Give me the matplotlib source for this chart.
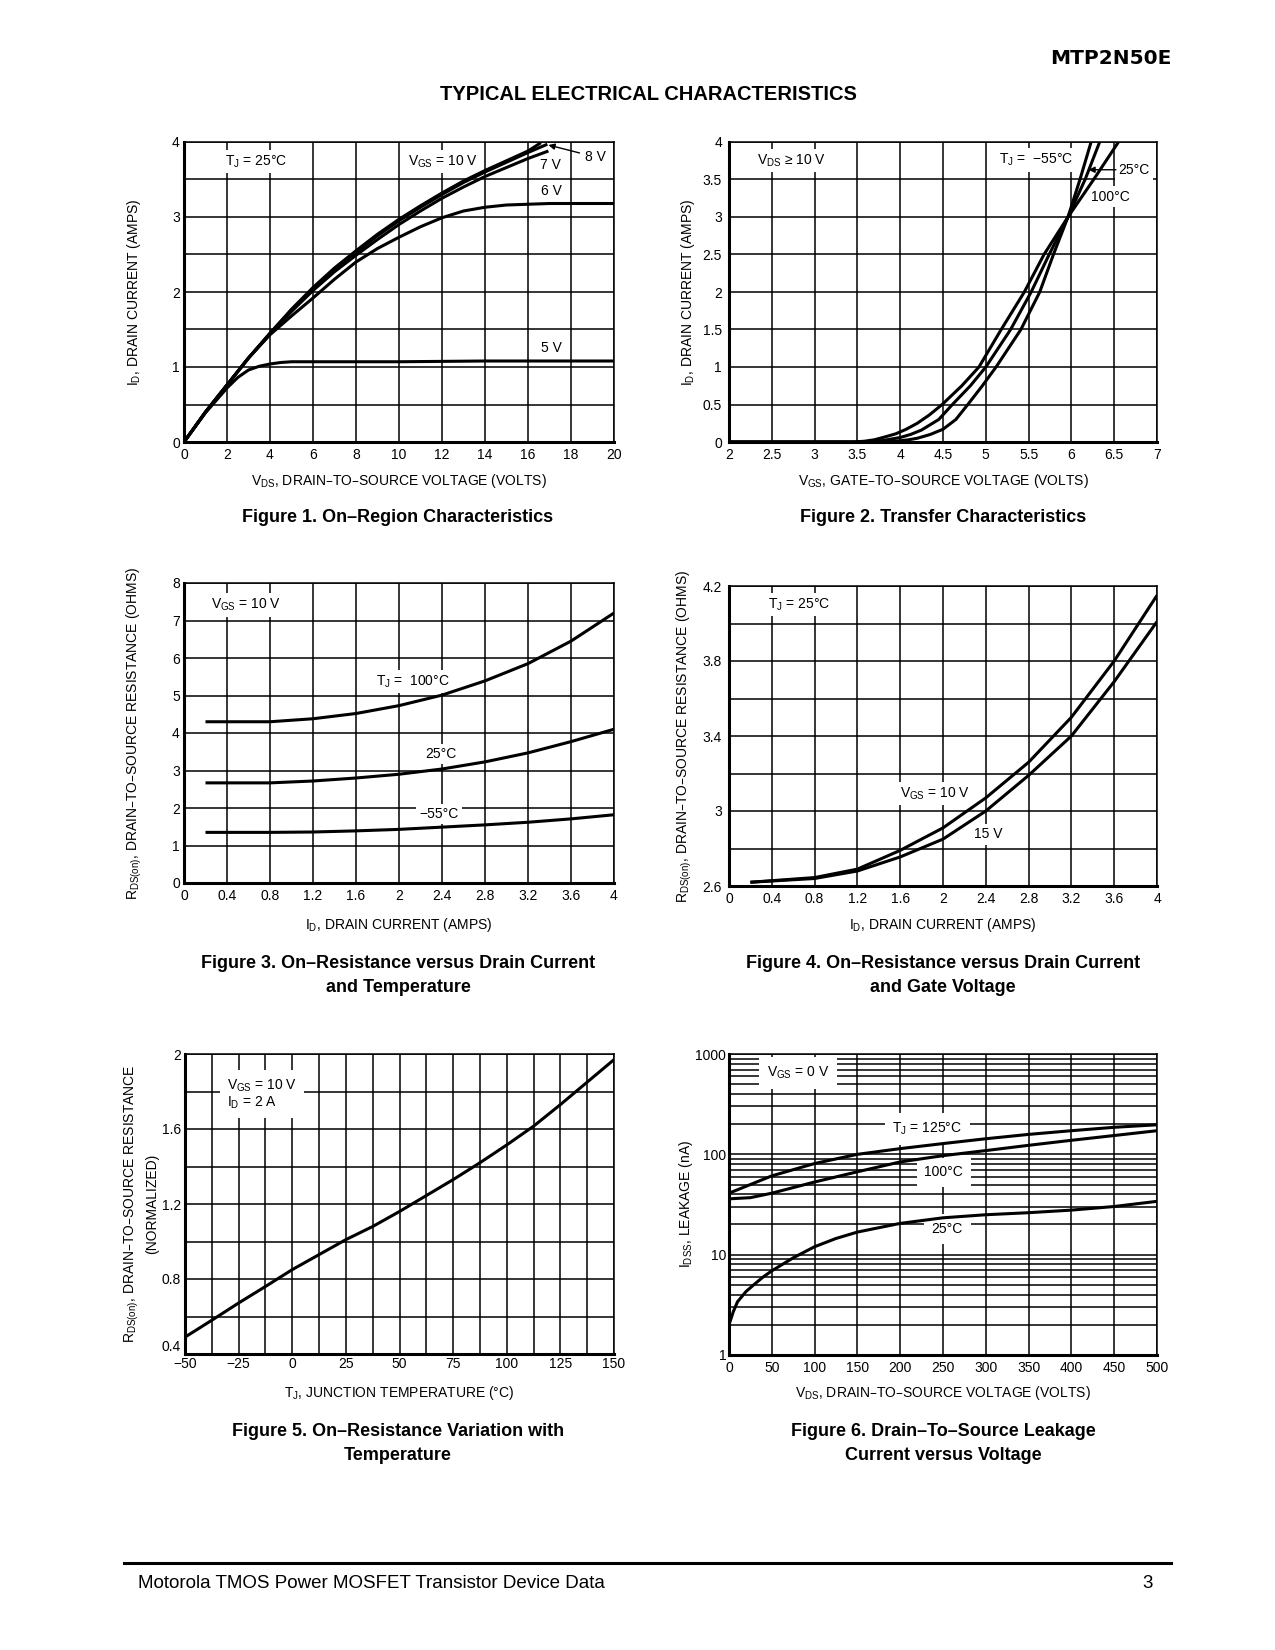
import numpy as np
import matplotlib
matplotlib.use('Agg')
import matplotlib.pyplot as plt
from matplotlib.ticker import NullFormatter

plt.rcParams['font.family'] = ['Liberation Sans', 'DejaVu Sans']
plt.rcParams['mathtext.default'] = 'regular'

# ---------------------------------------------------------------- data
# Figure 1: ID vs VDS for several VGS
vecVds10 = [0, 1, 2, 3, 4, 5, 6, 7, 8, 9, 10, 11, 12, 13, 14, 15, 16, 16.6]
vecId10 = [0, 0.40, 0.76, 1.12, 1.45, 1.77, 2.06, 2.32, 2.55, 2.77, 2.97,
           3.15, 3.32, 3.48, 3.62, 3.75, 3.88, 3.99]
vecVds8 = [0, 1, 2, 3, 4, 5, 6, 7, 8, 9, 10, 11, 12, 13, 14, 15, 16, 16.9]
vecId8 = [0, 0.40, 0.76, 1.12, 1.45, 1.76, 2.04, 2.30, 2.53, 2.75, 2.95,
          3.13, 3.30, 3.46, 3.60, 3.73, 3.86, 3.97]
vecVds7 = [0, 1, 2, 3, 4, 5, 6, 7, 8, 9, 10, 11, 12, 13, 14, 15, 16, 16.95]
vecId7 = [0, 0.40, 0.76, 1.12, 1.44, 1.74, 2.02, 2.27, 2.49, 2.70, 2.90,
          3.08, 3.25, 3.40, 3.54, 3.66, 3.78, 3.88]
vecVds6 = [0, 1, 2, 3, 4, 5, 6, 7, 8, 9, 10, 11, 12, 13, 14, 15, 16, 17,
           18, 19, 20]
vecId6 = [0, 0.40, 0.76, 1.12, 1.43, 1.68, 1.92, 2.17, 2.40, 2.58, 2.73,
          2.87, 2.99, 3.08, 3.13, 3.16, 3.17, 3.18, 3.18, 3.18, 3.18]
vecVds5 = [0, 1, 2, 2.5, 3, 3.5, 4, 4.5, 5, 6, 8, 10, 12, 14, 16, 18, 20]
vecId5 = [0, 0.39, 0.72, 0.86, 0.96, 1.01, 1.04, 1.06, 1.07, 1.07, 1.07,
          1.07, 1.075, 1.08, 1.08, 1.08, 1.08]

# Figure 2: transfer characteristics (VGS read at each ID level)
vecIdTrn = [0, 0, 0.01, 0.03, 0.07, 0.11, 0.17, 0.25, 0.36, 0.5, 0.75, 1.0,
            1.5, 2.0, 2.5, 3.0, 3.5, 4.0]
vecVgs100 = [2.0, 3.45, 3.58, 3.7, 3.83, 3.95, 4.07, 4.2, 4.34, 4.49, 4.72,
             4.92, 5.18, 5.45, 5.68, 5.96, 6.26, 6.55]
vecIdTrn25 = [0, 0, 0.01, 0.02, 0.04, 0.06, 0.1, 0.16, 0.3, 0.5, 0.75, 1.0,
              1.5, 2.0, 2.5, 3.0, 3.5, 4.0]
vecVgs25 = [2.0, 3.55, 3.7, 3.8, 3.9, 4.0, 4.12, 4.25, 4.45, 4.61, 4.82,
            5.0, 5.29, 5.53, 5.74, 5.96, 6.16, 6.33]
vecIdTrnM55 = [0, 0, 0.01, 0.03, 0.05, 0.1, 0.17, 0.3, 0.5, 0.75, 1.0, 1.5,
               2.0, 2.5, 3.0, 3.5, 4.0]
vecVgsM55 = [2.0, 3.7, 3.95, 4.1, 4.2, 4.35, 4.5, 4.65, 4.79, 4.96, 5.12,
             5.41, 5.63, 5.79, 5.96, 6.1, 6.23]

# Figure 3: RDS(on) vs ID and temperature
vecIdR = [0.2, 0.8, 1.2, 1.6, 2.0, 2.4, 2.8, 3.2, 3.6, 4.0]
vecR100 = [4.3, 4.3, 4.38, 4.52, 4.73, 5.01, 5.39, 5.85, 6.45, 7.2]
vecR25 = [2.67, 2.67, 2.72, 2.8, 2.9, 3.04, 3.23, 3.47, 3.77, 4.1]
vecRM55 = [1.35, 1.35, 1.36, 1.39, 1.43, 1.49, 1.55, 1.62, 1.71, 1.82]

# Figure 4: RDS(on) vs ID and gate voltage
vecIdG = [0.2, 0.8, 1.2, 1.6, 2.0, 2.4, 2.8, 3.2, 3.6, 4.0]
vecRg10 = [2.62, 2.645, 2.69, 2.79, 2.91, 3.07, 3.26, 3.50, 3.80, 4.15]
vecRg15 = [2.62, 2.64, 2.68, 2.755, 2.85, 3.0, 3.19, 3.40, 3.69, 4.01]

# Figure 5: normalized RDS(on) vs TJ
vecTj = [-50, -37.5, -25, -12.5, 0, 12.5, 25, 37.5, 50, 62.5, 75, 87.5,
         100, 112.5, 125, 137.5, 150]
vecRnorm = [0.49, 0.58, 0.672, 0.76, 0.85, 0.93, 1.01, 1.08, 1.16, 1.245,
            1.33, 1.42, 1.515, 1.615, 1.73, 1.85, 1.97]

# Figure 6: IDSS leakage vs VDS
vecVl25 = [0, 5, 10, 20, 30, 40, 50, 75, 100, 125, 150, 200, 250, 300, 350,
           400, 450, 500]
vecIl25 = [2.0, 2.7, 3.4, 4.3, 5.1, 6.0, 6.9, 9.3, 12.0, 14.5, 16.8, 20.5,
           23.3, 25.0, 26.2, 27.8, 30.2, 34.0]
vecVl100 = [0, 25, 50, 100, 150, 200, 250, 300, 350, 400, 450, 500]
vecIl100 = [36, 37, 41, 53, 67, 84, 97, 109, 123, 138, 154, 172]
vecVl125 = [0, 50, 100, 150, 200, 250, 300, 350, 400, 450, 500]
vecIl125 = [41, 61, 81, 100, 114, 128, 143, 158, 172, 186, 197]

# ---------------------------------------------------------------- layout
varW, varH = 1275, 1650
fgr01 = plt.figure(figsize=(varW / 100.0, varH / 100.0), dpi=100)
fgr01.patch.set_facecolor('white')


def fx(x):
    return x / float(varW)


def fy(y):
    return 1.0 - y / float(varH)


def make_ax(left, top, right, bottom):
    return fgr01.add_axes([fx(left), fy(bottom), (right - left) / float(varW),
                           (bottom - top) / float(varH)])


dctBox = dict(boxstyle='square,pad=0.25', facecolor='white', edgecolor='none')
varLw = 2.2
varFs = 10
varLblFs = 10


def style_ax(axs, vecXgrd, vecXlbl, lstXlbl, vecYgrd, vecYlbl, lstYlbl,
             xpad=4, ypad=3):
    axs.set_axisbelow(True)
    axs.set_xticks(vecXgrd, minor=True)
    axs.set_yticks(vecYgrd, minor=True)
    axs.set_xticks(vecXlbl)
    axs.set_xticklabels(lstXlbl)
    axs.set_yticks(vecYlbl)
    axs.set_yticklabels(lstYlbl)
    axs.grid(which='both', color='black', linewidth=1.1)
    axs.tick_params(which='both', length=0, labelsize=varFs)
    axs.tick_params(axis='x', pad=xpad)
    axs.tick_params(axis='y', pad=ypad)
    axs.spines['left'].set_linewidth(2.2)
    axs.spines['bottom'].set_linewidth(2.2)
    axs.spines['top'].set_linewidth(1.1)
    axs.spines['right'].set_linewidth(1.1)


def curve(axs, x, y):
    axs.plot(x, y, color='black', linewidth=varLw, zorder=3,
             solid_capstyle='butt', solid_joinstyle='round')


def note(axs, x, y, s, ha='left'):
    axs.text(x, y, s, ha=ha, va='center', fontsize=varLblFs, bbox=dctBox,
             zorder=2)


def fmt(v):
    return ('%g' % v).replace('-', '\u2212')


# ---------------------------------------------------------------- Figure 1
axs01 = make_ax(184, 142, 614, 442)
axs01.set_xlim(0, 20)
axs01.set_ylim(0, 4)
vecX = np.arange(0, 21, 2)
style_ax(axs01, vecX, vecX, [fmt(v) for v in vecX],
         np.arange(0, 4.01, 0.5), np.arange(0, 5), ['0', '1', '2', '3', '4'])
for x, y in [(vecVds10, vecId10), (vecVds8, vecId8), (vecVds7, vecId7),
             (vecVds6, vecId6), (vecVds5, vecId5)]:
    curve(axs01, x, y)
note(axs01, 1.9, 3.74, 'T$_J$ = 25°C')
note(axs01, 10.4, 3.74, 'V$_{GS}$ = 10 V')
note(axs01, 17.05, 3.69, '7 V', ha='center')
note(axs01, 17.1, 3.34, '6 V', ha='center')
note(axs01, 17.1, 1.25, '5 V', ha='center')
axs01.annotate('8 V', xy=(16.95, 3.96), xytext=(18.65, 3.80),
               ha='left', va='center', fontsize=varLblFs,
               arrowprops=dict(arrowstyle='-|>', color='black', lw=1.0,
                               shrinkA=2, shrinkB=0, mutation_scale=9))

# ---------------------------------------------------------------- Figure 2
axs02 = make_ax(729, 142, 1157, 442)
axs02.set_xlim(2, 7)
axs02.set_ylim(0, 4)
vecX = np.arange(2, 7.01, 0.5)
vecY = np.arange(0, 4.01, 0.5)
style_ax(axs02, vecX, vecX, [fmt(v) for v in vecX],
         vecY, vecY, [fmt(v) for v in vecY], ypad=5)
curve(axs02, vecVgs100, vecIdTrn)
curve(axs02, vecVgs25, vecIdTrn25)
curve(axs02, vecVgsM55, vecIdTrnM55)
note(axs02, 2.33, 3.75, 'V$_{DS}$ \u2265 10 V')
note(axs02, 5.15, 3.76, 'T$_J$ =  \u221255°C')
note(axs02, 6.55, 3.62, '25°C')
note(axs02, 6.23, 3.27, '100°C')
axs02.annotate('', xy=(6.2, 3.63), xytext=(6.52, 3.63),
               arrowprops=dict(arrowstyle='-|>', color='black', lw=1.0,
                               shrinkA=0, shrinkB=0, mutation_scale=9))

# ---------------------------------------------------------------- Figure 3
axs03 = make_ax(184, 583, 614, 883)
axs03.set_xlim(0, 4)
axs03.set_ylim(0, 8)
vecX = np.round(np.arange(0, 4.01, 0.4), 1)
style_ax(axs03, vecX, vecX, [fmt(v) for v in vecX],
         np.arange(0, 9), np.arange(0, 9), [str(v) for v in range(9)])
curve(axs03, vecIdR, vecR100)
curve(axs03, vecIdR, vecR25)
curve(axs03, vecIdR, vecRM55)
note(axs03, 0.25, 7.41, 'V$_{GS}$ = 10 V')
note(axs03, 1.79, 5.37, 'T$_J$ =  100°C')
note(axs03, 2.39, 3.44, '25°C', ha='center')
note(axs03, 2.37, 1.84, '\u221255°C', ha='center')

# ---------------------------------------------------------------- Figure 4
axs04 = make_ax(729, 586, 1157, 886)
axs04.set_xlim(0, 4)
axs04.set_ylim(2.6, 4.2)
vecY = np.round(np.arange(2.6, 4.21, 0.4), 1)
style_ax(axs04, vecX, vecX, [fmt(v) for v in vecX],
         np.round(np.arange(2.6, 4.21, 0.2), 1), vecY,
         [fmt(v) for v in vecY], ypad=5)
curve(axs04, vecIdG, vecRg10)
curve(axs04, vecIdG, vecRg15)
note(axs04, 0.366, 4.10, 'T$_J$ = 25°C')
note(axs04, 1.6, 3.094, 'V$_{GS}$ = 10 V')
note(axs04, 2.42, 2.877, '15 V', ha='center')

# ---------------------------------------------------------------- Figure 5
axs05 = make_ax(185, 1054, 614, 1354)
axs05.set_xlim(-50, 150)
axs05.set_ylim(0.4, 2.0)
vecX = np.arange(-50, 151, 25)
vecY = np.round(np.arange(0.4, 2.01, 0.4), 1)
style_ax(axs05, np.arange(-50, 150.1, 12.5), vecX, [fmt(v) for v in vecX],
         np.round(np.arange(0.4, 2.01, 0.2), 1), vecY,
         [fmt(v) for v in vecY], xpad=2)
# lowest y label sits just above the corner, clear of the "-50"
axs05.get_yticklabels()[0].set_va('bottom')
curve(axs05, vecTj, vecRnorm)
axs05.text(-30.5, 1.785, 'V$_{GS}$ = 10 V\nI$_D$ = 2 A', ha='left',
           va='center', fontsize=varLblFs, linespacing=1.1, zorder=2,
           bbox=dict(boxstyle='square,pad=0.5', facecolor='white',
                     edgecolor='none'))

# ---------------------------------------------------------------- Figure 6
axs06 = make_ax(729, 1054, 1157, 1355)
axs06.set_yscale('log')
axs06.set_xlim(0, 500)
axs06.set_ylim(1, 1000)
vecX = np.arange(0, 501, 50)
vecYmin = [m * 10 ** k for k in range(3) for m in range(2, 10)]
style_ax(axs06, vecX, vecX, [fmt(v) for v in vecX],
         vecYmin, [1, 10, 100, 1000], ['1', '10', '100', '1000'], ypad=2)
axs06.yaxis.set_minor_formatter(NullFormatter())
curve(axs06, vecVl125, vecIl125)
curve(axs06, vecVl100, vecIl100)
curve(axs06, vecVl25, vecIl25)
dctWide = dict(boxstyle='square,pad=0.55', facecolor='white',
               edgecolor='none')
axs06.text(44, 646, 'V$_{GS}$ = 0 V', ha='left', va='center',
           fontsize=varLblFs, bbox=dctWide, zorder=2)
axs06.text(191, 179, 'T$_J$ = 125°C', ha='left', va='center',
           fontsize=varLblFs, bbox=dctWide, zorder=2)
axs06.text(251, 66, '100°C', ha='center', va='center',
           fontsize=varLblFs, bbox=dctWide, zorder=2)
axs06.text(255, 18, '25°C', ha='center', va='center',
           fontsize=varLblFs, bbox=dctWide, zorder=2)

# ---------------------------------------------------------------- axis labels
lstXlab = [(399, 481, 'V$_{DS}$, DRAIN\u2013TO\u2013SOURCE VOLTAGE (VOLTS)'),
           (943, 481, 'V$_{GS}$, GATE\u2013TO\u2013SOURCE VOLTAGE (VOLTS)'),
           (399, 925, 'I$_D$, DRAIN CURRENT (AMPS)'),
           (943, 925, 'I$_D$, DRAIN CURRENT (AMPS)'),
           (399, 1393, 'T$_J$, JUNCTION TEMPERATURE (°C)'),
           (943, 1393, 'V$_{DS}$, DRAIN\u2013TO\u2013SOURCE VOLTAGE (VOLTS)')]
for x, y, s in lstXlab:
    fgr01.text(fx(x), fy(y), s, ha='center', va='center', fontsize=varLblFs)

strRds = 'R$_{DS(on)}$, DRAIN\u2013TO\u2013SOURCE RESISTANCE'
lstYlab = [(134, 292, 'I$_D$, DRAIN CURRENT (AMPS)'),
           (688, 292, 'I$_D$, DRAIN CURRENT (AMPS)'),
           (134, 733, strRds + ' (OHMS)'),
           (684, 736, strRds + ' (OHMS)'),
           (132, 1204, strRds),
           (152, 1204, '(NORMALIZED)'),
           (686, 1204, 'I$_{DSS}$, LEAKAGE (nA)')]
for x, y, s in lstYlab:
    fgr01.text(fx(x), fy(y), s, ha='center', va='center', rotation=90,
               fontsize=varLblFs)

# ---------------------------------------------------------------- page text
fgr01.text(fx(1171), fy(58), 'MTP2N50E', ha='right', va='center',
           fontsize=14.5, fontweight='bold', family='DejaVu Sans')
fgr01.text(fx(648), fy(94), 'TYPICAL ELECTRICAL CHARACTERISTICS',
           ha='center', va='center', fontsize=14.5, fontweight='bold')
lstCap = [(398, 518, 'Figure 1. On\u2013Region Characteristics'),
          (943, 518, 'Figure 2. Transfer Characteristics'),
          (398, 964, 'Figure 3. On\u2013Resistance versus Drain Current'),
          (398, 987, 'and Temperature'),
          (943, 964, 'Figure 4. On\u2013Resistance versus Drain Current'),
          (943, 987, 'and Gate Voltage'),
          (398, 1432, 'Figure 5. On\u2013Resistance Variation with'),
          (398, 1455, 'Temperature'),
          (943, 1432, 'Figure 6. Drain\u2013To\u2013Source Leakage'),
          (943, 1455, 'Current versus Voltage')]
for x, y, s in lstCap:
    fgr01.text(fx(x), fy(y), s, ha='center', va='center', fontsize=13,
               fontweight='bold')

fgr01.add_artist(plt.Line2D([fx(124), fx(1171)], [fy(1563), fy(1563)],
                            color='black', linewidth=2.2,
                            transform=fgr01.transFigure))
fgr01.text(fx(138), fy(1583), 'Motorola TMOS Power MOSFET Transistor Device Data',
           ha='left', va='center', fontsize=13.5)
fgr01.text(fx(1153), fy(1583), '3', ha='right', va='center', fontsize=13.5)

fgr01.savefig('out.png', dpi=100, facecolor='white')
plt.close(fgr01)
